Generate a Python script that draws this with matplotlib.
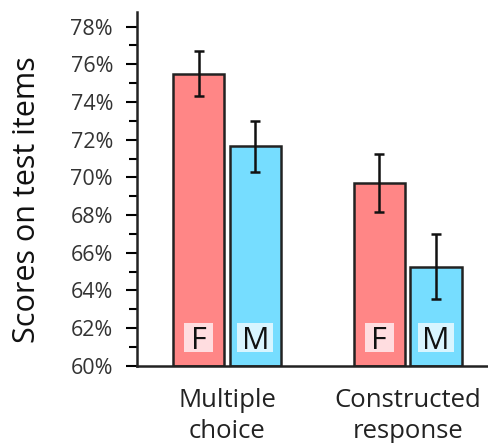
import matplotlib
matplotlib.use("Agg")
import matplotlib.pyplot as plt
import numpy as np
from matplotlib.patches import Rectangle
from matplotlib.ticker import MultipleLocator, FuncFormatter

# Mean scores (%) with error bars, by item format and gender
categories = ["Multiple\nchoice", "Constructed\nresponse"]
groups = ["F", "M"]
female_scores = [75.5, 69.7]
male_scores = [71.65, 65.25]
female_err = [1.2, 1.55]
male_err = [1.35, 1.73]

female_color = "#ff8686"
male_color = "#76ddff"
female_box = "#ffdde0"
male_box = "#d9f5ff"
edge = "#222222"

plt.rcParams["font.family"] = ["Open Sans", "DejaVu Sans"]

fig = plt.figure(figsize=(4.89, 4.43), dpi=100)
ax = fig.add_axes([0.2796, 0.1745, 0.7204, 0.7985])

x = np.arange(len(categories))
width = 0.285
offset = 0.157
label_y = 61.52
label_h = 1.54
label_w = {"F": 0.16, "M": 0.2}

series = [
    (female_scores, female_err, female_color, female_box, -offset, groups[0]),
    (male_scores, male_err, male_color, male_box, offset, groups[1]),
]
for vals, errs, col, boxcol, off, lab in series:
    ax.bar(x + off, np.array(vals) - 60, width, bottom=60, color=col,
           edgecolor=edge, linewidth=1.8, zorder=2)
    ax.errorbar(x + off, vals, yerr=errs, fmt="none", ecolor="#111111",
                elinewidth=1.8, capsize=3.6, capthick=1.8, zorder=3)
    for xi in x + off:
        w = label_w[lab]
        ax.add_patch(Rectangle((xi - w / 2, label_y - label_h / 2), w, label_h,
                               facecolor=boxcol, edgecolor="none", zorder=3.5))
        ax.text(xi, label_y, lab, ha="center", va="center_baseline",
                fontsize=22, color="#111111", zorder=4)

ax.set_xlim(-0.5, 1.45)
ax.set_ylim(60, 78.78)
ax.yaxis.set_major_locator(MultipleLocator(2))
ax.yaxis.set_minor_locator(MultipleLocator(1))
ax.yaxis.set_major_formatter(FuncFormatter(lambda v, p: f"{v:.0f}%"))
ax.set_xticks(x)
ax.set_xticklabels(categories, fontsize=18.5, color="#222222", linespacing=1.3)
ax.tick_params(axis="x", length=0, pad=16)
ax.tick_params(axis="y", which="major", length=8, width=1.5,
               labelsize=15.5, labelcolor="#333333", pad=9)
ax.tick_params(axis="y", which="minor", length=6, width=1.5)

for s in ["top", "right"]:
    ax.spines[s].set_visible(False)
for s in ["left", "bottom"]:
    ax.spines[s].set_linewidth(1.8)
    ax.spines[s].set_color("#222222")

ax.set_ylabel("Scores on test items", fontsize=22, color="#111111")
ax.yaxis.set_label_coords(-0.27, 0.47)

fig.savefig("out.png", dpi=100)
